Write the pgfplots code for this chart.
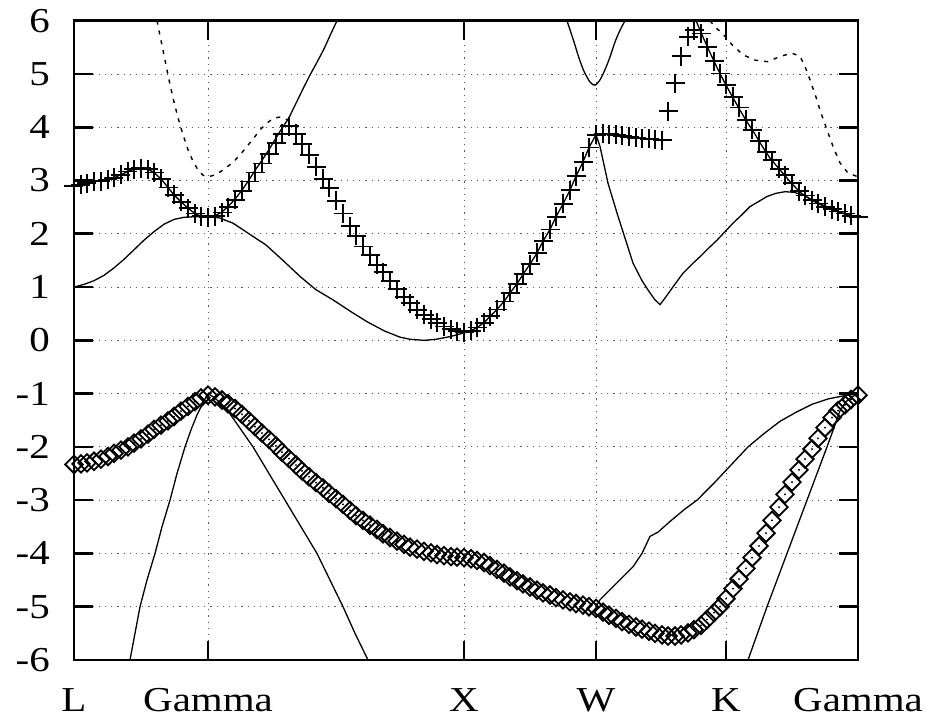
\documentclass[border=0pt]{standalone}
\usepackage{fontspec}
\setmainfont[FakeStretch=1.17]{Liberation Serif}
\usepackage{pgfplots}
\usepackage{pgfplotstable}
\pgfplotsset{compat=1.18}

% k-path coordinate: L=0, Gamma=134, X=390, W=522, K=652, Gamma=784

% lowest conduction band (solid)
\pgfplotstableread{
x y
0 1.00
10 1.05
20 1.12
30 1.22
40 1.36
50 1.52
60 1.70
70 1.88
80 2.04
90 2.18
100 2.27
110 2.31
120 2.32
134 2.32
145 2.30
159 2.20
175 2.00
192 1.79
209 1.50
226 1.20
242 0.95
259 0.76
276 0.55
293 0.35
310 0.18
326 0.06
336 0.02
350 0.00
362 0.02
376 0.07
390 0.14
397 0.18
403 0.24
410 0.33
416 0.45
423 0.58
430 0.73
436 0.89
443 1.06
449 1.24
456 1.43
463 1.64
469 1.86
476 2.08
482 2.32
489 2.56
496 2.82
502 3.08
509 3.35
515 3.62
522 3.86
526 3.64
534 2.95
543 2.39
551 1.92
559 1.45
568 1.12
576 0.89
581 0.76
586 0.67
592 0.82
600 1.03
609 1.26
618 1.43
626 1.57
634 1.72
643 1.88
651 2.04
659 2.20
668 2.36
676 2.51
685 2.61
693 2.70
702 2.76
711 2.79
720 2.78
730 2.72
740 2.62
750 2.53
760 2.45
770 2.38
784 2.31
}\bandA

% band rising from Gamma
\pgfplotstableread{
x y
134 2.32
141 2.34
148 2.41
154 2.51
161 2.65
168 2.82
175 3.01
181 3.19
188 3.38
195 3.58
202 3.80
208 3.98
215 4.18
222 4.45
229 4.72
236 4.98
243 5.22
250 5.47
256 5.72
263 6.00
}\bandB

% band L - Gamma under the crosses
\pgfplotstableread{
x y
0 2.89
7 2.92
13 2.95
20 2.98
27 2.99
34 3.02
40 3.05
47 3.11
54 3.17
60 3.21
67 3.23
74 3.21
80 3.15
87 3.03
94 2.87
100 2.73
107 2.60
114 2.48
121 2.38
127 2.33
134 2.31
}\bandC

% parabola near W
\pgfplotstableread{
x y
493 6.00
500 5.60
505 5.30
510 5.05
516 4.85
521 4.79
526 4.89
531 5.08
536 5.32
541 5.60
546 5.82
551 6.00
}\bandW

% band from the top down to Gamma along K-Gamma
\pgfplotstableread{
x y
622 6.00
630 5.65
636 5.40
643 5.12
650 4.86
657 4.62
666 4.32
673 4.10
680 3.90
688 3.65
696 3.42
706 3.20
716 2.98
726 2.78
736 2.65
746 2.55
756 2.47
766 2.40
776 2.35
784 2.31
}\bandE

% dashed bands
\pgfplotstableread{
x y
83 6.00
86 5.72
89 5.45
94 4.98
99 4.55
104 4.18
109 3.86
114 3.58
119 3.36
124 3.20
129 3.10
134 3.07
140 3.10
146 3.16
152 3.24
159 3.34
166 3.48
173 3.64
180 3.80
186 3.95
193 4.08
199 4.16
205 4.19
210 4.17
213 4.14
}\dashA

\pgfplotstableread{
x y
636 6.00
641 5.88
648 5.77
658 5.55
669 5.36
681 5.26
694 5.23
706 5.33
718 5.39
726 5.33
731 5.14
736 4.89
743 4.51
746 4.32
753 3.95
759 3.64
766 3.33
774 3.14
784 3.07
}\dashB

% valence bands (solid)
\pgfplotstableread{
x y
56 -6.00
61 -5.50
66 -5.00
73 -4.50
81 -4.00
88 -3.50
96 -3.00
103 -2.50
111 -2.00
117 -1.68
123 -1.40
129 -1.17
134 -1.00
}\valA

\pgfplotstableread{
x y
134 -1.00
140 -1.07
146 -1.17
153 -1.30
166 -1.65
179 -2.00
195 -2.50
211 -3.00
227 -3.50
243 -4.00
256 -4.50
269 -5.00
281 -5.50
294 -6.00
}\valB

\pgfplotstableread{
x y
522 -5.00
526 -4.87
543 -4.55
559 -4.25
568 -4.00
576 -3.68
584 -3.60
596 -3.40
610 -3.18
623 -3.00
640 -2.68
656 -2.36
674 -2.00
690 -1.75
706 -1.52
722 -1.35
738 -1.20
754 -1.10
770 -1.04
784 -1.00
}\valC

\pgfplotstableread{
x y
674 -6.00
693 -5.00
713 -4.00
733 -3.00
753 -2.00
760 -1.64
766 -1.32
772 -1.15
778 -1.06
784 -1.00
}\valD

% conduction band points (crosses)
\pgfplotstableread{
x y
0 2.89
7 2.92
13 2.95
20 2.98
27 2.99
34 3.02
40 3.05
47 3.11
54 3.17
60 3.21
67 3.23
74 3.21
80 3.15
87 3.03
94 2.87
100 2.73
107 2.60
114 2.48
121 2.38
127 2.33
134 2.31
141 2.33
148 2.40
154 2.50
161 2.64
168 2.80
175 2.98
181 3.15
188 3.32
195 3.50
202 3.70
208 3.88
215 4.02
222 3.88
228 3.68
235 3.48
242 3.26
249 3.03
255 2.86
262 2.62
269 2.38
276 2.14
282 1.96
289 1.76
296 1.60
303 1.42
309 1.28
316 1.12
323 0.96
330 0.82
336 0.70
343 0.57
350 0.48
357 0.40
363 0.33
370 0.26
377 0.21
383 0.17
390 0.15
397 0.18
403 0.24
410 0.33
416 0.45
423 0.58
430 0.73
436 0.89
443 1.06
449 1.24
456 1.43
463 1.64
469 1.86
476 2.08
482 2.32
489 2.56
496 2.82
502 3.08
509 3.35
515 3.62
522 3.86
529 3.88
535 3.87
542 3.86
548 3.84
555 3.82
562 3.80
568 3.79
575 3.78
581 3.77
588 3.76
594 4.30
601 4.83
607 5.33
614 5.70
620 5.82
627 5.76
633 5.50
640 5.24
646 5.01
652 4.80
659 4.57
665 4.37
672 4.14
678 3.95
685 3.74
692 3.54
698 3.38
705 3.22
711 3.10
718 2.95
725 2.80
731 2.72
738 2.63
744 2.57
751 2.51
758 2.46
764 2.42
771 2.38
777 2.34
784 2.31
}\cond

% valence band points (diamonds)
\pgfplotstableread{
x y
0 -2.33
7 -2.32
13 -2.30
20 -2.27
27 -2.23
34 -2.18
40 -2.12
47 -2.06
54 -2.00
60 -1.93
67 -1.85
74 -1.76
80 -1.67
87 -1.59
94 -1.51
100 -1.43
107 -1.33
114 -1.24
121 -1.15
127 -1.08
134 -1.03
141 -1.06
148 -1.12
154 -1.19
161 -1.28
168 -1.39
175 -1.51
181 -1.62
188 -1.74
195 -1.86
202 -1.98
208 -2.10
215 -2.22
222 -2.34
228 -2.45
235 -2.56
242 -2.67
249 -2.77
255 -2.87
262 -2.97
269 -3.08
276 -3.19
282 -3.29
289 -3.38
296 -3.47
303 -3.55
309 -3.63
316 -3.70
323 -3.77
330 -3.83
336 -3.88
343 -3.92
350 -3.96
357 -3.99
363 -4.02
370 -4.04
377 -4.06
383 -4.07
390 -4.08
397 -4.10
403 -4.13
410 -4.17
416 -4.23
423 -4.30
430 -4.37
436 -4.44
443 -4.51
449 -4.57
456 -4.63
463 -4.69
469 -4.74
476 -4.78
482 -4.83
489 -4.87
496 -4.91
502 -4.94
509 -4.97
515 -5.00
522 -5.03
529 -5.10
535 -5.16
542 -5.22
548 -5.28
555 -5.33
562 -5.38
568 -5.42
575 -5.46
581 -5.50
588 -5.53
594 -5.55
601 -5.55
607 -5.53
614 -5.49
620 -5.43
627 -5.35
633 -5.24
640 -5.11
646 -5.00
652 -4.85
659 -4.66
665 -4.48
672 -4.28
678 -4.08
685 -3.86
692 -3.62
698 -3.38
705 -3.13
711 -2.89
718 -2.66
725 -2.43
731 -2.23
738 -2.04
744 -1.84
751 -1.64
758 -1.45
764 -1.32
771 -1.21
777 -1.11
784 -1.03
}\val

\begin{document}
\begin{tikzpicture}
\begin{axis}[
  scale only axis,
  width=784bp, height=639.3bp,
  xmin=0, xmax=784, ymin=-6, ymax=6,
  xtick={0,134,390,522,652,784},
  xticklabels={L,Gamma,X,W,K,Gamma},
  ytick={-6,-5,-4,-3,-2,-1,0,1,2,3,4,5,6},
  yticklabels={-6,-5,-4,-3,-2,-1,0,1,2,3,4,5,6},
  tick align=inside,
  xtick pos=both, ytick pos=both,
  major tick length=19bp,
  tick style={black, line width=2.6bp},
  axis line style={line width=2.6bp},
  xmajorgrids, ymajorgrids,
  major grid style={black!65, line width=0.8bp, dash pattern=on 1.2bp off 5bp},
  tick label style={font=\rmfamily\fontsize{35bp}{40bp}\selectfont, inner sep=0pt},
  yticklabel style={anchor=east, xshift=-24bp},
  xticklabel style={anchor=base, yshift=-51bp},
]
\pgfplotsset{band/.style={black, line width=1.3bp, no markers},
             dband/.style={black, line width=1.4bp, no markers, dash pattern=on 4bp off 6bp}}
\addplot[band] table {\bandA};
\addplot[band] table {\bandB};
\addplot[band] table {\bandC};
\addplot[band, smooth] table {\bandW};
\addplot[band] table {\bandE};
\addplot[dband] table {\dashA};
\addplot[dband] table {\dashB};
\addplot[band] table {\valA};
\addplot[band] table {\valB};
\addplot[band] table {\valC};
\addplot[band] table {\valD};
\addplot[only marks, mark=+, mark size=9.5bp, mark options={black, line width=1.8bp}] table {\cond};
\addplot[only marks, mark=square, mark size=6.2bp, mark options={black, rotate=45, line width=1.8bp}] table {\val};
\addplot[only marks, mark=*, mark size=0.7bp, mark options={black}] table {\val};
\end{axis}
\path (current axis.south west) ++(-74bp,-59bp);
\path (current axis.north east) ++(69bp,20.7bp);
\end{tikzpicture}
\end{document}
